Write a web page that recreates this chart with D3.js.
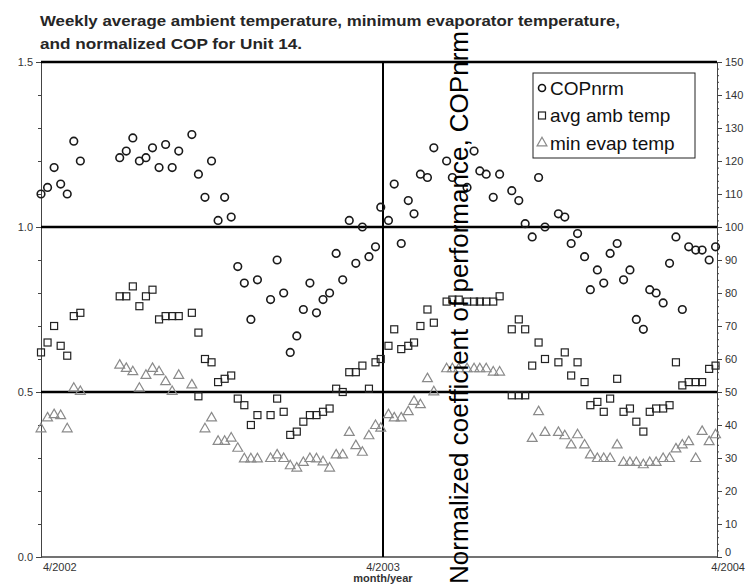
<!DOCTYPE html>
<html>
<head>
<meta charset="utf-8">
<script src="https://cdn.jsdelivr.net/npm/d3@7"></script>
<style>
  body { margin: 0; background: #fff; }
  svg { display: block; font-family: Arial, "Liberation Sans", sans-serif; }
</style>
</head>
<body>
<div id="chart"></div>
<script>
// x values are weeks since 1 Apr 2002
const copWeeks = [0, 1, 2, 3, 4, 5, 6, 12, 13, 14, 15, 16, 17, 18, 19, 20, 21, 23, 24, 25, 26, 27, 28, 29, 30, 31, 32, 33, 35, 36, 37, 38, 39, 40, 41, 42, 43, 44, 45, 46, 47, 48, 49, 50, 51, 51.8,
  53, 53.9, 55, 56.1, 57, 58, 59.1, 60.1, 62.1, 63, 65.3, 66.4, 67.3, 68.3, 69.4, 70.4, 72.3, 73.4, 74.4, 75.5, 76.5, 77.5, 79.6, 80.6, 81.6, 82.6, 83.7, 84.6, 85.7, 86.7, 87.7, 88.8, 89.8, 90.8, 91.8, 92.9, 93.9, 94.9, 96, 97, 98, 99, 100, 101.1, 102.1, 103.2, 104.2]
const copValues = [1.10, 1.12, 1.18, 1.13, 1.10, 1.26, 1.20, 1.21, 1.23, 1.27, 1.20, 1.21, 1.24, 1.18, 1.25, 1.18, 1.23, 1.28, 1.16, 1.09, 1.20, 1.02, 1.09, 1.03, 0.88, 0.83, 0.72, 0.84, 0.78, 0.90, 0.80, 0.62, 0.67, 0.75, 0.83, 0.74, 0.78, 0.80, 0.92, 0.84, 1.02, 0.89, 1.00, 0.91, 0.94, 1.06,
  1.02, 1.13, 0.95, 1.08, 1.04, 1.16, 1.15, 1.24, 1.20, 1.15, 1.12, 1.23, 1.17, 1.16, 1.09, 1.16, 1.11, 1.08, 1.01, 0.97, 1.15, 1.00, 1.04, 1.03, 0.95, 0.98, 0.91, 0.81, 0.87, 0.83, 0.92, 0.95, 0.84, 0.87, 0.72, 0.69, 0.81, 0.80, 0.77, 0.89, 0.97, 0.75, 0.94, 0.93, 0.93, 0.90, 0.94]

const ambWeeks = [0, 1, 2, 3, 4, 5, 6, 12, 13, 14, 15, 16, 17, 18, 19, 20, 21, 23, 24, 24, 25, 26, 27, 28, 29, 30, 31, 32, 33, 35, 36, 37, 38, 39, 40, 41, 42, 43, 44, 45, 46, 47, 48, 49, 50, 51, 51.8,
  53, 53.9, 55, 56.1, 57, 58, 59.1, 60.1, 62.1, 63, 64, 65.3, 66.4, 67.3, 68.3, 69.4, 70.4, 72.3, 73.4, 74.4, 72.3, 73.4, 74.4, 75.5, 76.5, 77.5, 79.6, 80.6, 81.6, 82.6, 83.7, 84.6, 85.7, 86.7, 87.7, 88.8, 89.8, 90.8, 91.8, 92.9, 93.9, 94.9, 96, 97, 98, 99, 100, 101.1, 102.1, 103.2, 104.2]
const ambValues = [62, 65, 70, 64, 61, 73, 74, 79, 79, 82, 76, 79, 81, 72, 73, 73, 73, 74, 68, 48.7, 60, 59, 53, 54, 55, 48, 46, 40, 43, 43, 48, 44, 37, 38, 41, 43, 43, 44, 45, 51, 50, 56, 56, 58, 51, 59, 60,
  64, 69, 63, 64, 65, 70, 75, 71, 77.4, 78, 78, 77.4, 77.4, 77.4, 77.4, 77.4, 79, 69, 72, 69, 49, 49, 49, 58, 65, 60, 59, 62, 55, 59, 53, 46, 47, 44, 48, 54, 44, 45, 41, 38, 44, 45, 45, 46, 59, 52, 53, 53, 53, 57, 58]

const evapWeeks = [0, 1, 2, 3, 4, 5, 6, 12, 13, 14, 15, 16, 17, 18, 19, 20, 21, 23, 25, 26, 27, 28, 29, 30, 31, 32, 33, 35, 36, 37, 38, 39, 40, 41, 42, 43, 44, 45, 46, 47, 48, 49, 50, 51, 51.8,
  53, 53.9, 55, 56.1, 57, 58, 59.1, 60.1, 62.1, 63, 64, 65.3, 66.4, 67.3, 68.3, 69.4, 70.4, 75.5, 76.5, 77.5, 79.6, 80.6, 81.6, 82.6, 83.7, 84.6, 85.7, 86.7, 87.7, 88.8, 89.8, 90.8, 91.8, 92.9, 93.9, 94.9, 96, 97, 98, 99, 100, 101.1, 102.1, 103.2, 104.2]
const evapValues = [38.8, 42.1, 43.1, 42.8, 38.8, 51.1, 50.1, 58.1, 57.1, 56.1, 51.1, 55, 57.1, 56.1, 53.1, 50.1, 55, 52.1, 38.8, 42.1, 35, 35, 36, 32.9, 29.7, 29.7, 29.7, 29.8, 30.9, 29.8, 27.6, 26.9, 28.6, 29.8, 29.7, 28.8, 26.9, 30.9, 30.9, 37.7, 33.7, 31.7, 36.7, 39.8, 39,
  43.1, 42.1, 42.1, 44, 47.1, 46.1, 54, 50, 57, 57, 57, 57, 57, 57, 57, 56, 56, 35.9, 44, 37.7, 37.7, 36.7, 33.9, 37, 33.9, 30.9, 29.8, 29.8, 29.8, 33.9, 28.6, 28.6, 28.6, 27.9, 28.6, 28.6, 29.8, 29.8, 32.7, 33.9, 34.9, 29.8, 38, 34.9, 37]

const xTickLabels = ["4/2002", "4/2003", "4/2004"]
const copTicks = [0, 0.5, 1.0, 1.5]
const tempTicks = [0, 10, 20, 30, 40, 50, 60, 70, 80, 90, 100, 110, 120, 130, 140, 150]
const legendLabels = ["COPnrm", "avg amb temp", "min evap temp"]
const titleLines = ["Weekly average ambient temperature, minimum evaporator temperature,", "and normalized COP for Unit 14."]

const width = 746
const height = 586
const start = new Date(2002, 3, 1)
const weekDate = (w) => new Date(start.getTime() + w * 7 * 864e5)

const svg = d3.select("#chart").append("svg")
  .attr("width", width)
  .attr("height", height)

// scales
const x = d3.scaleTime()
  .domain([start, new Date(2003, 3, 1), new Date(2004, 3, 1)])
  .range([41, 383, 717])
const yL = d3.scaleLinear().domain([0, 1.5]).range([557, 62])
const yR = d3.scaleLinear().domain([0, 150]).range([557, 62])

// title (scanned text is wider than the font, so stretch it)
svg.append("g").selectAll("text")
  .data(titleLines)
  .enter().append("text")
  .attr("x", 40)
  .attr("y", (d, i) => 26 + i * 23)
  .attr("font-size", 14)
  .attr("font-weight", "bold")
  .attr("fill", "#262626")
  .attr("textLength", (d, i) => i === 0 ? 580 : 262)
  .attr("lengthAdjust", "spacingAndGlyphs")
  .text(d => d)

// axes
const axisStyle = (g) => {
  g.select(".domain").attr("stroke", "#444")
  g.selectAll("line").attr("stroke", "#444")
  g.selectAll("text").attr("fill", "#333").attr("font-size", 11)
}

svg.append("g")
  .attr("transform", "translate(41,0)")
  .call(d3.axisLeft(yL).tickValues(d3.range(0, 1.51, 0.1)).tickSize(3).tickFormat(""))
  .call(axisStyle)
svg.append("g")
  .attr("transform", "translate(41,0)")
  .call(d3.axisLeft(yL).tickValues(copTicks).tickSize(5).tickFormat(d3.format(".1f")))
  .call(axisStyle)

svg.append("g")
  .attr("transform", "translate(717,0)")
  .call(d3.axisRight(yR).tickValues(d3.range(0, 151, 2)).tickSize(2).tickFormat(""))
  .call(axisStyle)
const rightAxis = svg.append("g")
  .attr("transform", "translate(717,0)")
  .call(d3.axisRight(yR).tickValues(tempTicks).tickSize(5).tickPadding(3))
  .call(axisStyle)
// the zero label sits a little higher so it clears the date label below
rightAxis.selectAll(".tick text").filter(d => d === 0).attr("dy", "-0.1em")

// x axis
svg.append("line")
  .attr("x1", x(start)).attr("x2", x(new Date(2004, 3, 1)))
  .attr("y1", yL(0)).attr("y2", yL(0))
  .attr("stroke", "#444").attr("stroke-width", 1.5)

svg.append("g").selectAll("text")
  .data(xTickLabels)
  .enter().append("text")
  .attr("x", (d, i) => x(new Date(2002 + i, 3, 1)) + (i === 0 ? 2 : i === 2 ? 28 : 0))
  .attr("y", 571)
  .attr("text-anchor", (d, i) => i === 0 ? "start" : i === 2 ? "end" : "middle")
  .attr("font-size", 11)
  .attr("fill", "#333")
  .text(d => d)

svg.append("text")
  .attr("x", 383)
  .attr("y", 582)
  .attr("text-anchor", "middle")
  .attr("font-size", 11)
  .attr("font-weight", "bold")
  .attr("fill", "#333")
  .text("month/year")

// heavy grid lines
svg.append("g").selectAll("line")
  .data([0.5, 1.0, 1.5])
  .enter().append("line")
  .attr("x1", 41).attr("x2", 717)
  .attr("y1", d => yL(d)).attr("y2", d => yL(d))
  .attr("stroke", "#000").attr("stroke-width", 2.5)

svg.append("line")
  .attr("x1", x(new Date(2003, 3, 1))).attr("x2", x(new Date(2003, 3, 1)))
  .attr("y1", yL(1.5)).attr("y2", yL(0))
  .attr("stroke", "#000").attr("stroke-width", 2)

// points
const tri = d3.symbol().type(d3.symbolTriangle).size(42)

svg.append("g").selectAll("path")
  .data(evapWeeks.map((w, i) => [w, evapValues[i]]))
  .enter().append("path")
  .attr("d", tri)
  .attr("transform", d => "translate(" + x(weekDate(d[0])) + "," + yR(d[1]) + ")")
  .attr("fill", "none")
  .attr("stroke", "#8a8a8a")
  .attr("stroke-width", 1.2)

svg.append("g").selectAll("rect")
  .data(ambWeeks.map((w, i) => [w, ambValues[i]]))
  .enter().append("rect")
  .attr("x", d => x(weekDate(d[0])) - 3.5)
  .attr("y", d => yR(d[1]) - 3.5)
  .attr("width", 7).attr("height", 7)
  .attr("fill", "none")
  .attr("stroke", "#222")
  .attr("stroke-width", 1.2)

svg.append("g").selectAll("circle")
  .data(copWeeks.map((w, i) => [w, copValues[i]]))
  .enter().append("circle")
  .attr("cx", d => x(weekDate(d[0])))
  .attr("cy", d => yL(d[1]))
  .attr("r", 3.8)
  .attr("fill", "none")
  .attr("stroke", "#1a1a1a")
  .attr("stroke-width", 1.6)

// misplaced right-axis title drawn across the plot
svg.append("text")
  .attr("transform", "translate(468,584) rotate(-90)")
  .attr("font-size", 26)
  .attr("fill", "#000")
  .text("Normalized coefficient of performance, COPnrm")

// legend
const legend = svg.append("g").attr("transform", "translate(533,73)")
legend.append("rect")
  .attr("width", 162).attr("height", 85)
  .attr("fill", "#fff").attr("stroke", "#222").attr("stroke-width", 1)

const items = legend.selectAll("g.item")
  .data(legendLabels)
  .enter().append("g")
  .attr("class", "item")
  .attr("transform", (d, i) => "translate(0," + (15 + i * 27.5) + ")")

items.append("text")
  .attr("x", 17)
  .attr("y", 6.5)
  .attr("font-size", 19)
  .attr("fill", "#111")
  .text(d => d)

items.filter((d, i) => i === 0).append("circle")
  .attr("cx", 9).attr("cy", 0).attr("r", 3.5)
  .attr("fill", "none").attr("stroke", "#111").attr("stroke-width", 1.6)
items.filter((d, i) => i === 1).append("rect")
  .attr("x", 5.5).attr("y", -3.5).attr("width", 7).attr("height", 7)
  .attr("fill", "none").attr("stroke", "#222").attr("stroke-width", 1.2)
items.filter((d, i) => i === 2).append("path")
  .attr("d", tri)
  .attr("transform", "translate(9,0)")
  .attr("fill", "none").attr("stroke", "#8a8a8a").attr("stroke-width", 1.2)
</script>
</body>
</html>
